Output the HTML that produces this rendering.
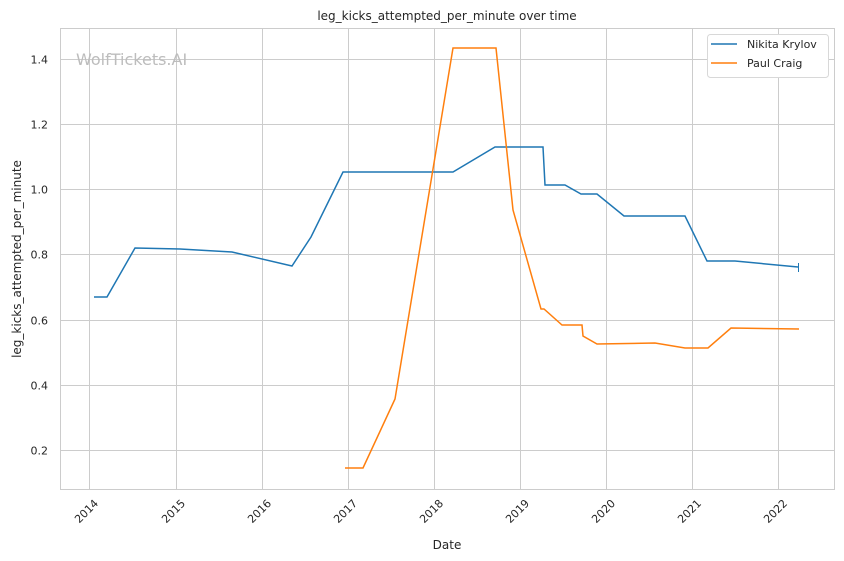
<!DOCTYPE html>
<html><head><meta charset="utf-8"><style>body{margin:0;background:#fff}svg{display:block}text{font-family:"DejaVu Sans","Liberation Sans",sans-serif;fill:#262626}</style></head><body>
<svg width="844" height="561" xmlns="http://www.w3.org/2000/svg">
<rect width="844" height="561" fill="#fff"/>
<g stroke="#cccccc" stroke-width="1">
<line x1="60" x2="835" y1="59.5" y2="59.5"/><line x1="60" x2="835" y1="124.5" y2="124.5"/><line x1="60" x2="835" y1="189.5" y2="189.5"/><line x1="60" x2="835" y1="254.5" y2="254.5"/><line x1="60" x2="835" y1="320.5" y2="320.5"/><line x1="60" x2="835" y1="385.5" y2="385.5"/><line x1="60" x2="835" y1="450.5" y2="450.5"/>
<line x1="89.5" x2="89.5" y1="28" y2="490"/><line x1="176.5" x2="176.5" y1="28" y2="490"/><line x1="262.5" x2="262.5" y1="28" y2="490"/><line x1="348.5" x2="348.5" y1="28" y2="490"/><line x1="434.5" x2="434.5" y1="28" y2="490"/><line x1="520.5" x2="520.5" y1="28" y2="490"/><line x1="606.5" x2="606.5" y1="28" y2="490"/><line x1="692.5" x2="692.5" y1="28" y2="490"/><line x1="778.5" x2="778.5" y1="28" y2="490"/>
<rect x="60.5" y="28.5" width="774" height="461" fill="none"/>
</g>
<text x="76" y="65" font-size="16" style="fill:#bdbdbd">WolfTickets.AI</text>
<g font-size="11" text-anchor="end">
<text x="48" y="63.5">1.4</text><text x="48" y="128.5">1.2</text><text x="48" y="193.5">1.0</text><text x="48" y="258.5">0.8</text><text x="48" y="324.5">0.6</text><text x="48" y="389.5">0.4</text><text x="48" y="454.5">0.2</text>
</g>
<g font-size="11" text-anchor="end">
<text transform="translate(99,504) rotate(-45)">2014</text><text transform="translate(186,504) rotate(-45)">2015</text><text transform="translate(272,504) rotate(-45)">2016</text><text transform="translate(358,504) rotate(-45)">2017</text><text transform="translate(444,504) rotate(-45)">2018</text><text transform="translate(530,504) rotate(-45)">2019</text><text transform="translate(616,504) rotate(-45)">2020</text><text transform="translate(702,504) rotate(-45)">2021</text><text transform="translate(788,504) rotate(-45)">2022</text>
</g>
<text x="447" y="549" font-size="12" text-anchor="middle">Date</text>
<text transform="translate(21,259) rotate(-90)" font-size="12" text-anchor="middle">leg_kicks_attempted_per_minute</text>
<text x="447" y="20" font-size="12" text-anchor="middle">leg_kicks_attempted_per_minute over time</text>
<polyline fill="none" stroke="#1f77b4" stroke-width="1.5" points="94,297 107,297 135,248 180,249 232,252 292,266 311,237 343,172 453,172 495,147 543,147 545,185 565,185 581,194 597,194 624,216 685,216 707,261 735,261 798,267"/>
<line x1="798.5" x2="798.5" y1="263" y2="272" stroke="#1f77b4" stroke-width="1"/>
<polyline fill="none" stroke="#ff7f0e" stroke-width="1.5" points="345,468 363,468 395,399 453,48 496,48 513,210 541,309 544,309 562,325 582,325 583,336 597,344 655,343 685,348 708,348 731,328 799,329"/>
<rect x="707.5" y="34.5" width="121" height="43" rx="3" fill="#fff" stroke="#d8d8d8"/>
<line x1="711" x2="737" y1="44" y2="44" stroke="#1f77b4" stroke-width="1.5"/>
<line x1="711" x2="737" y1="63" y2="63" stroke="#ff7f0e" stroke-width="1.5"/>
<text x="747" y="48" font-size="11">Nikita Krylov</text>
<text x="747" y="67" font-size="11">Paul Craig</text>
</svg>
</body></html>
